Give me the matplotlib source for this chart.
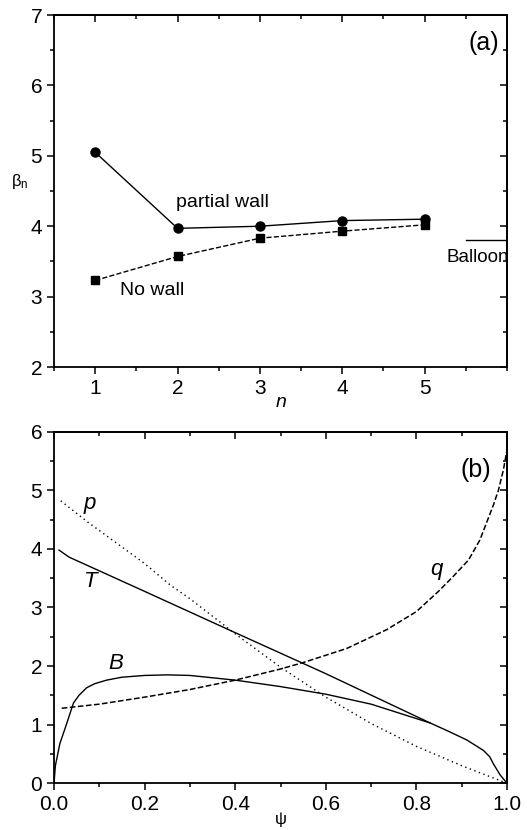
import numpy as np
import matplotlib.pyplot as plt
from matplotlib.ticker import MultipleLocator, FormatStrFormatter

plt.rcParams['font.family'] = ['Liberation Sans', 'DejaVu Sans']
plt.rcParams['mathtext.fontset'] = 'custom'
plt.rcParams['mathtext.rm'] = 'Liberation Sans'
plt.rcParams['mathtext.it'] = 'Liberation Sans:italic'

# (a) beta_n limits vs toroidal mode number
n_vals = [1, 2, 3, 4, 5]
beta_partial = [5.05, 3.97, 4.00, 4.08, 4.10]
beta_nowall = [3.23, 3.57, 3.83, 3.93, 4.02]
balloon_n = [5.5, 6.0]
balloon_beta = [3.80, 3.80]

# (b) equilibrium profiles vs psi
psi_T = [0.011, 0.033, 0.19, 0.4, 0.6, 0.83, 0.87, 0.911, 0.948, 0.962,
         0.97, 0.985, 1.0]
T_prof = [3.98, 3.86, 3.31, 2.57, 1.87, 1.03, 0.89, 0.74, 0.56, 0.45,
          0.33, 0.14, 0.0]
psi_B = [0.0, 0.003, 0.013, 0.025, 0.043, 0.055, 0.072, 0.09, 0.116, 0.15,
         0.2, 0.25, 0.3, 0.4, 0.5, 0.6, 0.7, 0.765, 0.83]
B_prof = [0.0, 0.30, 0.68, 0.95, 1.37, 1.50, 1.63, 1.70, 1.76, 1.81,
          1.84, 1.85, 1.84, 1.76, 1.65, 1.52, 1.35, 1.19, 1.03]
psi_p = [0.015, 0.074, 0.2, 0.257, 0.3, 0.4, 0.5, 0.6, 0.7, 0.8, 0.9, 1.0]
p_prof = [4.82, 4.46, 3.75, 3.38, 3.15, 2.55, 1.98, 1.47, 1.02, 0.63, 0.30, 0.0]
psi_q = [0.017, 0.1, 0.2, 0.3, 0.4, 0.5, 0.55, 0.646, 0.734, 0.8, 0.848,
         0.88, 0.915, 0.94, 0.955, 0.97, 0.981, 0.992, 1.0]
q_prof = [1.28, 1.35, 1.47, 1.60, 1.76, 1.95, 2.06, 2.30, 2.62, 2.93, 3.27,
          3.52, 3.81, 4.15, 4.45, 4.75, 5.00, 5.35, 5.69]

fig = plt.figure(figsize=(5.27, 8.3), dpi=100)
ax1 = fig.add_axes([0.1025, 0.5578, 0.8596, 0.4241])
ax2 = fig.add_axes([0.1025, 0.0563, 0.8596, 0.4236])


def style(ax, xmaj, xmin, ymaj, ymin):
    for s in ax.spines.values():
        s.set_linewidth(1.3)
    ax.xaxis.set_major_locator(MultipleLocator(xmaj))
    ax.xaxis.set_minor_locator(MultipleLocator(xmin))
    ax.yaxis.set_major_locator(MultipleLocator(ymaj))
    ax.yaxis.set_minor_locator(MultipleLocator(ymin))
    ax.tick_params(which='both', labelsize=15, width=1.1, direction='out',
                   top=False, right=False)
    ax.tick_params(which='major', length=5)
    ax.tick_params(which='minor', length=3)
    # inward ticks on the top and right edges
    top = ax.secondary_xaxis('top')
    right = ax.secondary_yaxis('right')
    for sec, loc in ((top.xaxis, (xmaj, xmin)), (right.yaxis, (ymaj, ymin))):
        sec.set_major_locator(MultipleLocator(loc[0]))
        sec.set_minor_locator(MultipleLocator(loc[1]))
    for sec in (top, right):
        sec.tick_params(which='both', direction='in', width=1.1,
                        labelleft=False, labelright=False,
                        labeltop=False, labelbottom=False)
        sec.tick_params(which='major', length=5)
        sec.tick_params(which='minor', length=3)
        for s in sec.spines.values():
            s.set_linewidth(1.3)


# panel (a)
ax1.plot(n_vals, beta_partial, 'k-', lw=1.0, marker='o', ms=6.5)
ax1.plot(n_vals, beta_nowall, 'k--', lw=1.0, marker='s', ms=6)
ax1.plot(balloon_n, balloon_beta, 'k-', lw=1.0)
ax1.set_xlim(0.5, 6.0)
ax1.set_ylim(2, 7)
style(ax1, 1, 0.5, 1, 0.5)
ax1.set_xticks([1, 2, 3, 4, 5])
ax1.set_xlabel('$n$', fontsize=14, labelpad=-3)
ax1.set_ylabel(r'$\mathrm{\beta}_\mathrm{n}$', fontsize=12, rotation=0,
               labelpad=8)
ax1.text(1.98, 4.27, 'partial wall', fontsize=14)
ax1.text(1.3, 3.02, 'No wall', fontsize=14)
ax1.text(6.02, 3.55, 'Balloon', fontsize=13.5, ha='right', va='center')
ax1.text(5.9, 6.6, '(a)', fontsize=18, ha='right', va='center')

# panel (b)
ax2.plot(psi_T, T_prof, 'k-', lw=1.0)
ax2.plot(psi_B, B_prof, 'k-', lw=1.0)
ax2.plot(psi_p, p_prof, 'k', ls=(0, (1, 2.5)), lw=1.0)
ax2.plot(psi_q, q_prof, 'k--', lw=1.1)
ax2.set_xlim(0, 1)
ax2.set_ylim(0, 6)
style(ax2, 0.2, 0.1, 1, 0.5)
ax2.xaxis.set_major_formatter(FormatStrFormatter('%.1f'))
ax2.set_xlabel(r'$\mathrm{\psi}$', fontsize=12, labelpad=-3)
ax2.text(0.065, 4.68, '$p$', fontsize=16)
ax2.text(0.065, 3.35, '$T$', fontsize=16)
ax2.text(0.12, 1.95, '$B$', fontsize=16)
ax2.text(0.83, 3.55, '$q$', fontsize=16)
ax2.text(0.965, 5.35, '(b)', fontsize=18, ha='right', va='center')

fig.savefig('out.png', dpi=100)
